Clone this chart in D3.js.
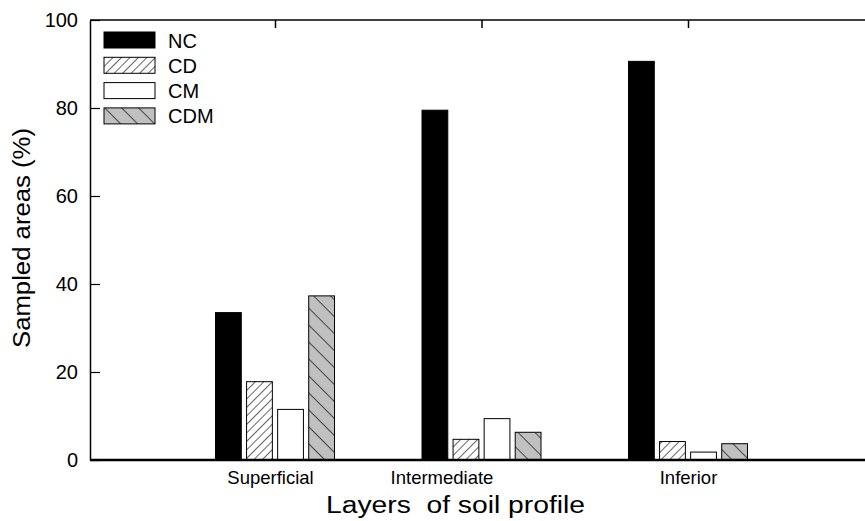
<!DOCTYPE html>
<html lang="en">
<head>
<meta charset="utf-8">
<title>Layers of soil profile</title>
<script src="https://d3js.org/d3.v7.min.js"></script>
<style>
  body { margin: 0; background: #fff; }
  svg text { font-family: "Liberation Sans", Arial, sans-serif; fill: #000; }
</style>
</head>
<body>
<div id="chart"></div>
<script>
"use strict";

// data
var layers = ["Superficial", "Intermediate", "Inferior"];
var series = ["NC", "CD", "CM", "CDM"];
var valNC  = [33.5, 79.5, 90.6];
var valCD  = [17.8, 4.7, 4.2];
var valCM  = [11.5, 9.4, 1.8];
var valCDM = [37.3, 6.3, 3.7];
var yTicks = [0, 20, 40, 60, 80, 100];

function drawChart() {
  var values = { NC: valNC, CD: valCD, CM: valCM, CDM: valCDM };

  var W = 865, H = 521;
  var plotLeft = 90, plotTop = 20, plotBottom = 460;

  var svg = d3.select("#chart").append("svg")
    .attr("width", W).attr("height", H);

  // hatch patterns
  var defs = svg.append("defs");
  var pCD = defs.append("pattern").attr("id", "hatchCD")
    .attr("patternUnits", "userSpaceOnUse").attr("width", 6).attr("height", 6)
    .attr("patternTransform", "rotate(45)");
  pCD.append("rect").attr("width", 6).attr("height", 6).attr("fill", "#fff");
  pCD.append("line").attr("x1", 0).attr("y1", 0).attr("x2", 0).attr("y2", 6)
    .attr("stroke", "#000").attr("stroke-width", 1.2);

  var pCDM = defs.append("pattern").attr("id", "hatchCDM")
    .attr("patternUnits", "userSpaceOnUse").attr("width", 12).attr("height", 12)
    .attr("patternTransform", "rotate(-45)");
  pCDM.append("rect").attr("width", 12).attr("height", 12).attr("fill", "#c0c0c0");
  pCDM.append("line").attr("x1", 0).attr("y1", 0).attr("x2", 0).attr("y2", 12)
    .attr("stroke", "#000").attr("stroke-width", 1.3);

  var fills = { NC: "#000", CD: "url(#hatchCD)", CM: "#fff", CDM: "url(#hatchCDM)" };

  // scales
  var x = d3.scalePoint().domain(layers).range([275, 688]);
  var xs = d3.scaleBand().domain(series).range([-59.5, 59.5]).paddingInner(0.17);
  var y = d3.scaleLinear().domain([0, 100]).range([plotBottom, plotTop]);

  // bars
  var g = svg.append("g");
  layers.forEach(function(l, i) {
    series.forEach(function(s) {
      var v = values[s][i];
      g.append("rect")
        .attr("x", x(l) + xs(s))
        .attr("y", y(v))
        .attr("width", xs.bandwidth())
        .attr("height", y(0) - y(v))
        .attr("fill", fills[s])
        .attr("stroke", "#000")
        .attr("stroke-width", 1);
    });
  });

  // y axis (ticks inside)
  var yAxis = svg.append("g").attr("transform", "translate(" + plotLeft + ",0)")
    .call(d3.axisLeft(y).tickValues(yTicks).tickSizeInner(-10).tickSizeOuter(0).tickPadding(12));
  yAxis.select(".domain").attr("stroke-width", 1.5);
  yAxis.selectAll(".tick line").attr("stroke-width", 1.2);
  yAxis.selectAll("text").attr("font-size", 20);

  // top frame line with category ticks
  var topAxis = svg.append("g").attr("transform", "translate(0," + plotTop + ")")
    .call(d3.axisTop(x).tickSizeInner(-8).tickSizeOuter(0).tickFormat(""));
  topAxis.select(".domain").attr("d", "M" + plotLeft + ",0H" + W).attr("stroke-width", 1.5);
  topAxis.selectAll(".tick line").attr("stroke-width", 1.5);

  // bottom axis line with category labels (labels sit a bit off-centre in the original)
  var labelShift = [-5, -40, 0];
  var botAxis = svg.append("g").attr("transform", "translate(0," + plotBottom + ")")
    .call(d3.axisBottom(x).tickSize(0).tickPadding(11));
  botAxis.select(".domain").attr("d", "M" + plotLeft + ",0H" + W).attr("stroke-width", 2.5);
  botAxis.selectAll("text")
    .attr("font-size", 18.5)
    .attr("dx", function(d, i) { return labelShift[i]; });

  // axis titles
  svg.append("text")
    .attr("x", 455.5).attr("y", 513)
    .attr("text-anchor", "middle").attr("font-size", 23)
    .attr("textLength", 259).attr("lengthAdjust", "spacingAndGlyphs")
    .style("white-space", "pre")
    .text("Layers  of soil profile");

  svg.append("text")
    .attr("transform", "translate(30,238) rotate(-90)")
    .attr("text-anchor", "middle").attr("font-size", 23)
    .attr("textLength", 220).attr("lengthAdjust", "spacingAndGlyphs")
    .text("Sampled areas (%)");

  // legend
  var leg = svg.append("g").attr("transform", "translate(104,32)");
  series.forEach(function(s, i) {
    var row = leg.append("g").attr("transform", "translate(0," + (i * 25.3) + ")");
    row.append("rect").attr("width", 51).attr("height", 16)
      .attr("fill", fills[s]).attr("stroke", "#000").attr("stroke-width", 1);
    row.append("text").attr("x", 64).attr("y", 15.5)
      .attr("font-size", 20).text(s);
  });
}

drawChart();
</script>
</body>
</html>
